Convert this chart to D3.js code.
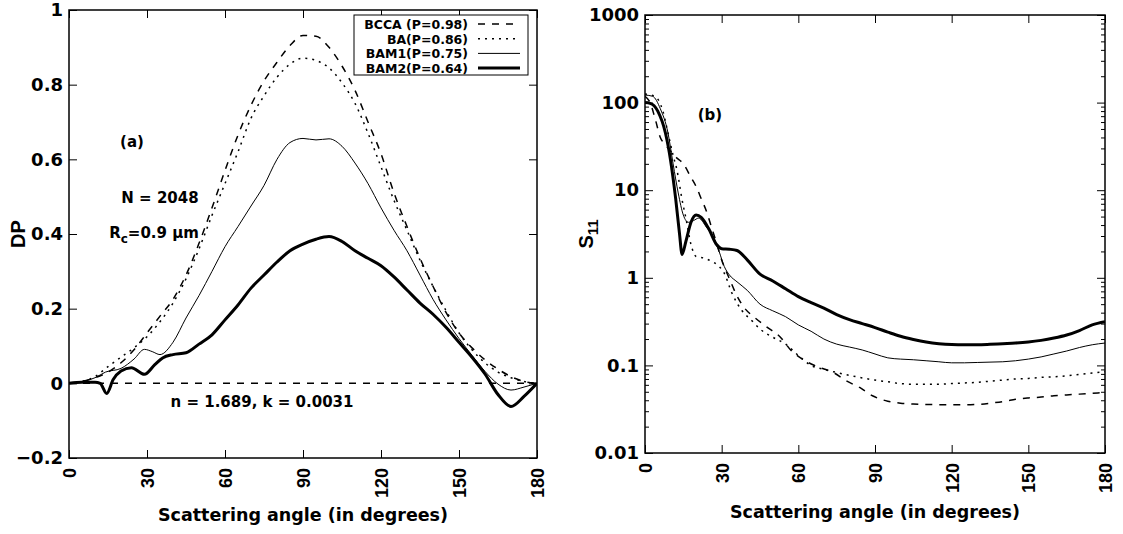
<!DOCTYPE html>
<html>
<head>
<meta charset="utf-8">
<script src="https://cdn.jsdelivr.net/npm/d3@7"></script>
<style>
  body { margin: 0; background: white; }
  svg text { font-family: "DejaVu Sans", Helvetica, sans-serif; font-weight: bold; fill: black; }
  svg text.rot { font-family: "Liberation Sans", Arial, Helvetica, sans-serif; }
</style>
</head>
<body>
<svg id="chart" width="1123" height="534"></svg>
<script>
// ---- data: [angle (deg), value] ----
const seriesNames = ["BCCA (P=0.98)", "BA(P=0.86)", "BAM1(P=0.75)", "BAM2(P=0.64)"];

// panel (a): degree of polarisation
const dpBCCA = [[0,0],[5,0.005],[10,0.015],[15,0.03],[20,0.055],[25,0.09],[30,0.135],[35,0.18],[40,0.225],[45,0.29],[50,0.375],[55,0.47],[60,0.57],[65,0.665],[70,0.745],[75,0.81],[80,0.86],[85,0.905],[90,0.932],[95,0.93],[100,0.9],[105,0.85],[110,0.785],[115,0.7],[120,0.615],[125,0.51],[130,0.42],[135,0.335],[140,0.26],[145,0.19],[150,0.135],[155,0.095],[160,0.063],[165,0.038],[170,0.018],[175,0.005],[180,0]];
const dpBA = [[0,0],[5,0.005],[10,0.018],[15,0.045],[20,0.07],[25,0.095],[30,0.125],[35,0.165],[40,0.215],[45,0.28],[50,0.36],[55,0.45],[60,0.535],[65,0.62],[70,0.71],[75,0.77],[80,0.82],[85,0.855],[90,0.871],[95,0.865],[100,0.845],[105,0.805],[110,0.75],[115,0.67],[120,0.58],[125,0.49],[130,0.41],[135,0.33],[140,0.26],[145,0.195],[150,0.135],[155,0.09],[160,0.055],[165,0.03],[170,0.015],[175,0.005],[180,0]];
const dpBAM1 = [[0,0],[5,0.005],[10,0.015],[14,0.03],[20,0.04],[25,0.065],[29,0.091],[32,0.085],[35,0.077],[40,0.11],[45,0.175],[50,0.235],[55,0.3],[60,0.366],[65,0.42],[70,0.475],[75,0.53],[80,0.6],[85,0.645],[90,0.656],[95,0.652],[100,0.655],[105,0.635],[110,0.59],[115,0.535],[120,0.47],[125,0.41],[130,0.355],[135,0.29],[140,0.225],[145,0.17],[150,0.12],[155,0.075],[160,0.032],[165,-0.002],[170,-0.018],[175,-0.01],[180,0]];
const dpBAM2 = [[0,0],[5,0.003],[10,0.003],[12,0],[14.5,-0.027],[17,0.01],[20,0.033],[24,0.042],[29,0.024],[33,0.05],[36,0.068],[40,0.077],[45,0.082],[50,0.105],[55,0.13],[60,0.17],[65,0.21],[70,0.255],[75,0.29],[80,0.325],[85,0.355],[90,0.373],[95,0.386],[100,0.393],[105,0.38],[110,0.355],[115,0.335],[120,0.315],[125,0.285],[130,0.25],[135,0.215],[140,0.185],[145,0.15],[150,0.11],[155,0.07],[160,0.025],[165,-0.03],[170,-0.062],[175,-0.035],[180,0]];

// panel (b): S11 (log scale)
const s11BCCA = [[0,118],[2,100],[4,65],[6,40],[8,33],[10,28],[12,24],[15,20],[18,14],[20,11],[22,8],[24,5.8],[26,3.8],[28,2.5],[30,1.6],[33,0.98],[36,0.62],[39,0.45],[43,0.35],[48,0.27],[53,0.21],[57,0.15],[62,0.116],[67,0.098],[74,0.082],[79,0.066],[84,0.056],[89,0.045],[95,0.039],[100,0.037],[105,0.0362],[110,0.0358],[120,0.0355],[126,0.0355],[131,0.036],[136,0.0373],[141,0.039],[145,0.041],[150,0.0425],[155,0.0435],[160,0.045],[165,0.046],[170,0.047],[175,0.048],[180,0.049]];
const s11BA = [[0,125],[4,117],[7,80],[9,45],[11,25],[12.5,17],[14.5,7.8],[16,4.8],[18,2.4],[20,1.75],[23,1.68],[26,1.55],[29,1.35],[31,1.13],[34,0.67],[38,0.42],[42,0.32],[45,0.26],[50,0.21],[55,0.175],[60,0.13],[65,0.1],[70,0.09],[75,0.083],[80,0.077],[85,0.072],[90,0.068],[95,0.065],[100,0.062],[105,0.061],[110,0.061],[115,0.061],[120,0.062],[125,0.063],[130,0.064],[135,0.066],[140,0.068],[145,0.07],[150,0.071],[155,0.073],[160,0.074],[165,0.076],[170,0.079],[175,0.082],[180,0.085]];
const s11BAM1 = [[0,122],[3,118],[6,85],[9,45],[11,20],[13,9.3],[15,5.2],[17,4.3],[19,4.5],[21,4.8],[24,3.8],[27,2.8],[29,2.0],[31,1.35],[33,1.08],[36,0.9],[40,0.72],[45,0.5],[50,0.42],[55,0.36],[60,0.29],[65,0.245],[70,0.2],[75,0.175],[80,0.162],[85,0.15],[90,0.135],[95,0.122],[100,0.118],[105,0.116],[110,0.113],[115,0.11],[120,0.107],[125,0.107],[130,0.108],[135,0.109],[140,0.11],[145,0.113],[150,0.118],[155,0.125],[160,0.135],[165,0.146],[170,0.16],[175,0.172],[180,0.18]];
const s11BAM2 = [[0,100],[2,98],[5,80],[8,45],[10,22],[12,8],[13.5,3.2],[14.5,1.85],[16,2.6],[18,4.3],[20,5.2],[22,4.9],[25,3.6],[28,2.4],[30,2.15],[33,2.12],[36,2.05],[40,1.6],[45,1.1],[50,0.92],[55,0.75],[60,0.61],[65,0.52],[70,0.45],[75,0.38],[80,0.333],[85,0.3],[90,0.27],[95,0.24],[100,0.215],[105,0.198],[110,0.185],[115,0.177],[120,0.173],[125,0.172],[130,0.172],[135,0.174],[140,0.177],[145,0.18],[150,0.185],[155,0.193],[160,0.205],[165,0.222],[170,0.25],[175,0.29],[180,0.315]];

const angleTicks = [0, 30, 60, 90, 120, 150, 180];
const dpTicks = [-0.2, 0, 0.2, 0.4, 0.6, 0.8, 1];
const s11Ticks = [0.01, 0.1, 1, 10, 100, 1000];
const s11TickLabels = ["0.01", "0.1", "1", "10", "100", "1000"];

// line styles per series (same order as seriesNames)
const styles = [
  { width: 1.5, dash: "7,7" },
  { width: 1.5, dash: "2,5" },
  { width: 1, dash: null },
  { width: 3, dash: null }
];

const svg = d3.select("#chart");

function frameAxes(g, x, y, w, h, yTicks, yFmt, minor) {
  // bottom + top x ticks (inward)
  let xb = g.append("g").attr("transform", `translate(0,${h})`)
    .call(d3.axisBottom(x).tickValues(angleTicks).tickSize(-8).tickSizeOuter(0).tickPadding(10));
  xb.selectAll("text")
    .attr("class", "rot")
    .attr("transform", "rotate(-90)")
    .attr("text-anchor", "end")
    .attr("x", -10).attr("y", 0).attr("dy", "0.36em")
    .style("font-size", "18px");
  g.append("g").call(d3.axisTop(x).tickValues(angleTicks).tickSize(-8).tickSizeOuter(0).tickFormat(""));

  let yl = g.append("g")
    .call(d3.axisLeft(y).tickValues(yTicks).tickSize(-8).tickSizeOuter(0).tickPadding(6).tickFormat(yFmt));
  yl.selectAll("text").style("font-size", "18px");
  g.append("g").attr("transform", `translate(${w},0)`)
    .call(d3.axisRight(y).tickValues(yTicks).tickSize(-8).tickSizeOuter(0).tickFormat(""));

  if (minor) {
    g.append("g").call(d3.axisLeft(y).tickValues(minor).tickSize(-4).tickSizeOuter(0).tickFormat(""));
    g.append("g").attr("transform", `translate(${w},0)`)
      .call(d3.axisRight(y).tickValues(minor).tickSize(-4).tickSizeOuter(0).tickFormat(""));
  }
  g.selectAll(".domain").remove();
  g.selectAll(".tick line").attr("stroke", "black").attr("stroke-width", 1);

  g.append("rect").attr("width", w).attr("height", h)
    .attr("fill", "none").attr("stroke", "black").attr("stroke-width", 1.5);
}

function drawLines(g, x, y, data, clipId, w, h) {
  g.append("clipPath").attr("id", clipId)
    .append("rect").attr("width", w).attr("height", h);
  let line = d3.line().x(d => x(d[0])).y(d => y(d[1])).curve(d3.curveMonotoneX);
  data.forEach((s, i) => {
    g.append("path")
      .attr("clip-path", `url(#${clipId})`)
      .attr("d", line(s))
      .attr("fill", "none")
      .attr("stroke", "black")
      .attr("stroke-width", styles[i].width)
      .attr("stroke-dasharray", styles[i].dash)
      .attr("stroke-linejoin", "round");
  });
}

/* ---------- panel (a) ---------- */
{
  let m = { left: 69, top: 10 }, w = 468, h = 448;
  let g = svg.append("g").attr("transform", `translate(${m.left},${m.top})`);
  let x = d3.scaleLinear().domain([0, 180]).range([0, w]);
  let y = d3.scaleLinear().domain([-0.2, 1]).range([h, 0]);

  // zero line
  g.append("line").attr("x1", x(0)).attr("x2", x(180)).attr("y1", y(0)).attr("y2", y(0))
    .attr("stroke", "black").attr("stroke-width", 1.5).attr("stroke-dasharray", "7,7");

  drawLines(g, x, y, [dpBCCA, dpBA, dpBAM1, dpBAM2], "clipA", w, h);
  frameAxes(g, x, y, w, h, dpTicks, d3.format("~g"), null);

  // legend
  let lg = svg.append("g");
  lg.append("rect").attr("x", 354).attr("y", 15).attr("width", 174).attr("height", 60)
    .attr("fill", "white").attr("stroke", "black").attr("stroke-width", 1);
  seriesNames.forEach((name, i) => {
    let cy = 24 + i * 14.7;
    lg.append("text").attr("x", 468).attr("y", cy + 5).attr("text-anchor", "end")
      .style("font-size", "12.5px").text(name);
    lg.append("line").attr("x1", 478).attr("x2", 520).attr("y1", cy).attr("y2", cy)
      .attr("stroke", "black").attr("stroke-width", styles[i].width)
      .attr("stroke-dasharray", styles[i].dash);
  });

  // annotations
  svg.append("text").attr("x", 132).attr("y", 147).attr("text-anchor", "middle")
    .style("font-size", "15px").text("(a)");
  svg.append("text").attr("x", 160).attr("y", 203).attr("text-anchor", "middle")
    .style("font-size", "15px").text("N = 2048");
  let rc = svg.append("text").attr("x", 154).attr("y", 238).attr("text-anchor", "middle")
    .style("font-size", "15px");
  rc.append("tspan").text("R");
  rc.append("tspan").attr("dy", 5).style("font-size", "12px").text("c");
  rc.append("tspan").attr("dy", -5).text("=0.9 \u03bcm");
  svg.append("text").attr("x", 262).attr("y", 407).attr("text-anchor", "middle")
    .style("font-size", "15px").text("n = 1.689, k = 0.0031");

  svg.append("text").attr("x", m.left + w / 2).attr("y", 521).attr("text-anchor", "middle")
    .style("font-size", "17.5px").text("Scattering angle (in degrees)");
  svg.append("text").attr("class", "rot").attr("transform", `translate(25,${m.top + h / 2}) rotate(-90)`)
    .attr("text-anchor", "middle").style("font-size", "20px").text("DP");
}

/* ---------- panel (b) ---------- */
{
  let m = { left: 645, top: 15 }, w = 460, h = 438;
  let g = svg.append("g").attr("transform", `translate(${m.left},${m.top})`);
  let x = d3.scaleLinear().domain([0, 180]).range([0, w]);
  let y = d3.scaleLog().domain([0.01, 1000]).range([h, 0]);

  let minor = [];
  s11Ticks.slice(0, -1).forEach(d => { for (let k = 2; k <= 9; k++) minor.push(d * k); });

  drawLines(g, x, y, [s11BCCA, s11BA, s11BAM1, s11BAM2], "clipB", w, h);
  frameAxes(g, x, y, w, h, s11Ticks, (d, i) => s11TickLabels[i], minor);

  svg.append("text").attr("x", 710).attr("y", 120).attr("text-anchor", "middle")
    .style("font-size", "15px").text("(b)");
  svg.append("text").attr("x", m.left + w / 2).attr("y", 518).attr("text-anchor", "middle")
    .style("font-size", "17.5px").text("Scattering angle (in degrees)");
  let sl = svg.append("text").attr("class", "rot").attr("transform", `translate(593,${m.top + h / 2}) rotate(-90)`)
    .attr("text-anchor", "middle").style("font-size", "20px");
  sl.append("tspan").text("S");
  sl.append("tspan").attr("dy", 5).style("font-size", "15px").text("11");
}
</script>
</body>
</html>
